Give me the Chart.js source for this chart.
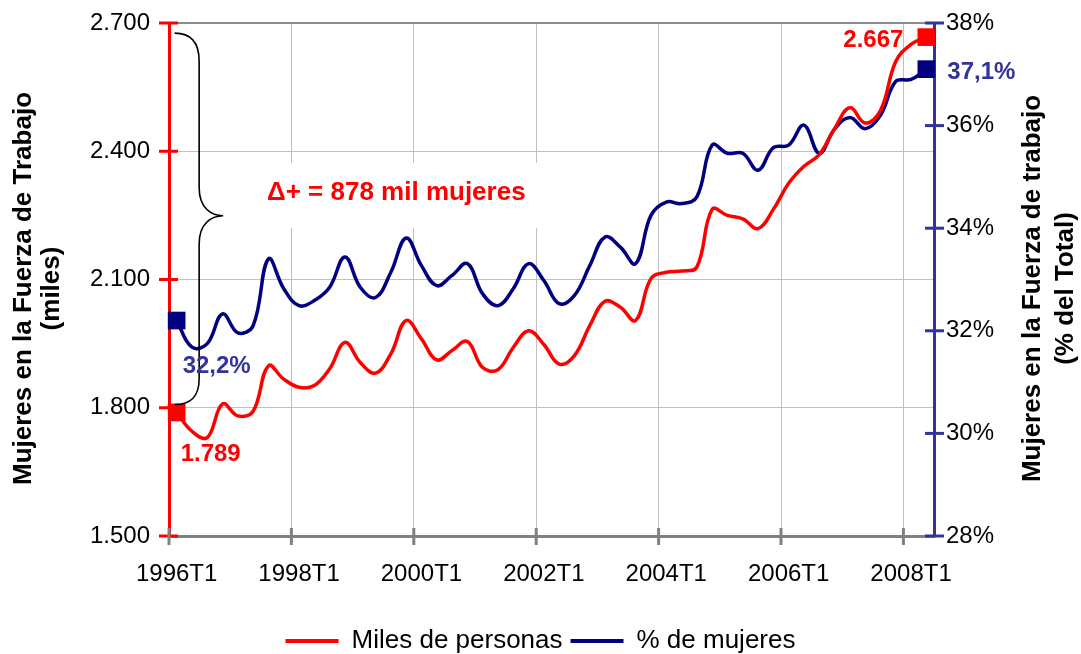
<!DOCTYPE html>
<html><head><meta charset="utf-8">
<script src="https://cdn.jsdelivr.net/npm/chart.js@4.4.1/dist/chart.umd.min.js"></script>
<style>html,body{margin:0;padding:0;background:#fff}</style>
</head><body>
<canvas id="c" width="1081" height="654"></canvas>
<script>
const quarters = [
 '1996T1','1996T2','1996T3','1996T4','1997T1','1997T2','1997T3','1997T4',
 '1998T1','1998T2','1998T3','1998T4','1999T1','1999T2','1999T3','1999T4',
 '2000T1','2000T2','2000T3','2000T4','2001T1','2001T2','2001T3','2001T4',
 '2002T1','2002T2','2002T3','2002T4','2003T1','2003T2','2003T3','2003T4',
 '2004T1','2004T2','2004T3','2004T4','2005T1','2005T2','2005T3','2005T4',
 '2006T1','2006T2','2006T3','2006T4','2007T1','2007T2','2007T3','2007T4',
 '2008T1','2008T2'];
const milesPersonas = [
 1789,1745,1730,1809,1781,1792,1898,1867,
 1848,1852,1891,1953,1906,1881,1926,2004,
 1961,1912,1934,1955,1894,1889,1941,1980,
 1948,1902,1922,1992,2049,2035,2004,2102,
 2117,2120,2129,2264,2250,2242,2219,2264,
 2325,2365,2392,2453,2502,2466,2495,2610,
 2650,2667];
const pctMujeres = [
 32.2,31.68,31.75,32.33,31.96,32.1,33.4,32.82,
 32.49,32.59,32.85,33.44,32.85,32.65,33.14,33.81,
 33.27,32.88,33.08,33.31,32.72,32.49,32.82,33.31,
 32.98,32.53,32.69,33.27,33.83,33.63,33.31,34.25,
 34.51,34.48,34.61,35.62,35.46,35.46,35.13,35.57,
 35.62,36.01,35.46,35.93,36.16,35.94,36.2,36.86,
 36.9,37.1];
const milesTicks = [1500,1800,2100,2400,2700];
const pctTicks = [28,30,32,34,36,38];
const seriesNames = ['Miles de personas','% de mujeres'];
const axisTitleLeft = ['Mujeres en la Fuerza de Trabajo','(miles)'];
const axisTitleRight = ['Mujeres en la Fuerza de trabajo','(% del Total)'];

const RED = '#ff0000', NAVY = '#000080', AXBLUE = '#333399', GRID = '#c0c0c0';
const FONT = '"Liberation Sans", Arial, Helvetica, sans-serif';
Chart.defaults.font.family = FONT;
Chart.defaults.color = '#000';

const fmtMiles = v => String(Math.round(v)).replace(/\B(?=(\d{3})+(?!\d))/g, '.');
const fmtPct = v => v.toFixed(1).replace('.', ',') + '%';
const lastIdx = milesPersonas.length - 1;
const endRadius = ctx => (ctx.dataIndex === 0 || ctx.dataIndex === lastIdx) ? 12.5 : 0;

const decor = {
  id: 'decor',
  beforeDatasetsDraw(chart) {
    const {ctx, chartArea: a, scales} = chart;
    ctx.save();
    // top frame line
    ctx.strokeStyle = '#8c8c8c'; ctx.lineWidth = 2;
    ctx.beginPath(); ctx.moveTo(a.left, a.top); ctx.lineTo(a.right, a.top); ctx.stroke();
    // white box behind annotation
    ctx.fillStyle = '#fff';
    ctx.fillRect(240, 163, 308, 65);
    // tick marks crossing axes
    ctx.lineWidth = 3;
    ctx.strokeStyle = RED;
    milesTicks.forEach(v => { const y = scales.y.getPixelForValue(v);
      ctx.beginPath(); ctx.moveTo(a.left - 10, y); ctx.lineTo(a.left + 9, y); ctx.stroke(); });
    ctx.strokeStyle = AXBLUE;
    pctTicks.forEach(v => { const y = scales.y1.getPixelForValue(v);
      ctx.beginPath(); ctx.moveTo(a.right - 9, y); ctx.lineTo(a.right + 10, y); ctx.stroke(); });
    ctx.strokeStyle = '#808080';
    const half = (scales.x.getPixelForValue(1) - scales.x.getPixelForValue(0)) / 2;
    for (let i = 0; i <= quarters.length; i += 8) {
      const x = i >= quarters.length ? a.right : scales.x.getPixelForValue(i) - half;
      ctx.beginPath(); ctx.moveTo(x, a.bottom - 8); ctx.lineTo(x, a.bottom + 9); ctx.stroke();
    }
    ctx.restore();
  },
  afterDatasetsDraw(chart) {
    const {ctx, scales} = chart;
    const r = chart.getDatasetMeta(0).data, b = chart.getDatasetMeta(1).data;
    ctx.save();
    // brace
    const bx = r[0].x + 22.5, top = scales.y.getPixelForValue(milesPersonas[lastIdx]) - 4;
    const bot = r[0].y - 8, mid = (top + bot) / 2 - 3;
    ctx.strokeStyle = '#000'; ctx.lineWidth = 1.6;
    ctx.beginPath();
    ctx.moveTo(r[0].x - 2, top);
    ctx.bezierCurveTo(bx - 8, top, bx, top + 10, bx, top + 28);
    ctx.lineTo(bx, mid - 28);
    ctx.bezierCurveTo(bx, mid - 8, bx + 12, mid, bx + 24, mid);
    ctx.bezierCurveTo(bx + 12, mid, bx, mid + 8, bx, mid + 28);
    ctx.lineTo(bx, bot - 26);
    ctx.bezierCurveTo(bx, bot - 8, bx - 8, bot, r[0].x - 2, bot);
    ctx.stroke();
    // annotation
    ctx.fillStyle = RED; ctx.textBaseline = 'middle'; ctx.textAlign = 'left';
    ctx.font = 'bold 26px ' + FONT;
    ctx.fillText('\u0394+ = ' + (milesPersonas[lastIdx] - milesPersonas[0]) + ' mil mujeres', 267, 193);
    // end labels
    ctx.font = 'bold 24px ' + FONT;
    ctx.fillText(fmtMiles(milesPersonas[0]), r[0].x + 4, r[0].y + 42);
    ctx.textAlign = 'right';
    ctx.fillText(fmtMiles(milesPersonas[lastIdx]), r[lastIdx].x - 23, r[lastIdx].y + 3);
    ctx.fillStyle = AXBLUE; ctx.textAlign = 'left';
    ctx.fillText(fmtPct(pctMujeres[0]), b[0].x + 6, b[0].y + 46);
    ctx.fillText(fmtPct(pctMujeres[lastIdx]), b[lastIdx].x + 21, b[lastIdx].y + 3);
    ctx.restore();
  },
  afterDraw(chart) {
    const {ctx, chartArea: a} = chart;
    const cy = (a.top + a.bottom) / 2 + 9;
    ctx.save();
    ctx.fillStyle = '#000'; ctx.font = 'bold 26px ' + FONT;
    ctx.textAlign = 'center'; ctx.textBaseline = 'middle';
    const put = (txt, x) => { ctx.save(); ctx.translate(x, cy); ctx.rotate(-Math.PI / 2); ctx.fillText(txt, 0, 0); ctx.restore(); };
    put(axisTitleLeft[0], 24); put(axisTitleLeft[1], 52);
    put(axisTitleRight[0], 1033); put(axisTitleRight[1], 1066);
    ctx.restore();
  }
};

new Chart(document.getElementById('c'), {
  type: 'line',
  data: {
    labels: quarters,
    datasets: [
      { label: seriesNames[0], data: milesPersonas, yAxisID: 'y', borderColor: RED, backgroundColor: RED,
        borderWidth: 3.5, tension: 0.4, pointStyle: 'rect', pointRadius: endRadius, pointHoverRadius: endRadius,
        pointBackgroundColor: RED, pointBorderWidth: 0, clip: false },
      { label: seriesNames[1], data: pctMujeres, yAxisID: 'y1', borderColor: NAVY, backgroundColor: NAVY,
        borderWidth: 3.5, tension: 0.4, pointStyle: 'rect', pointRadius: endRadius, pointHoverRadius: endRadius,
        pointBackgroundColor: NAVY, pointBorderWidth: 0, clip: false }
    ]
  },
  options: {
    responsive: false, animation: false, devicePixelRatio: 1,
    layout: { padding: { top: 23, left: 0, right: 0, bottom: -10 } },
    plugins: {
      tooltip: { enabled: false },
      legend: {
        position: 'bottom',
        labels: {
          boxWidth: 53, boxHeight: 4, padding: 8, font: { size: 26 }, color: '#000',
          generateLabels: chart => chart.data.datasets.map((d, i) => ({
            text: d.label, fillStyle: d.borderColor, strokeStyle: d.borderColor, lineWidth: 0,
            hidden: false, datasetIndex: i }))
        }
      }
    },
    scales: {
      x: {
        type: 'category', offset: true,
        grid: { offset: true, drawTicks: false, lineWidth: 1,
          color: c => (c.index % 8 === 0 && c.index > 0 && c.index < quarters.length) ? GRID : 'rgba(0,0,0,0)' },
        border: { color: '#808080', width: 3 },
        ticks: { autoSkip: false, maxRotation: 0, minRotation: 0, padding: 24, font: { size: 24 }, color: '#000',
          callback: (v, i) => i % 8 === 0 ? quarters[i] : '' },
        afterFit: s => { s.height = 84; s.paddingLeft = 0; s.paddingRight = 0; }
      },
      y: {
        position: 'left', min: milesTicks[0], max: milesTicks[milesTicks.length - 1],
        afterBuildTicks: s => { s.ticks = milesTicks.map(v => ({ value: v })); },
        grid: { drawTicks: false, lineWidth: 1,
          color: c => (c.index === 0 || c.index === milesTicks.length - 1) ? 'rgba(0,0,0,0)' : GRID },
        border: { color: RED, width: 3 },
        ticks: { padding: 19, font: { size: 24 }, color: '#000', callback: v => fmtMiles(v) },
        afterFit: s => { s.width = 169; s.paddingTop = 0; s.paddingBottom = 0; }
      },
      y1: {
        position: 'right', min: pctTicks[0], max: pctTicks[pctTicks.length - 1],
        afterBuildTicks: s => { s.ticks = pctTicks.map(v => ({ value: v })); },
        grid: { drawOnChartArea: false, drawTicks: false },
        border: { color: AXBLUE, width: 3 },
        ticks: { padding: 12, font: { size: 24 }, color: '#000', callback: v => v + '%' },
        afterFit: s => { s.width = 147; s.paddingTop = 0; s.paddingBottom = 0; }
      }
    }
  },
  plugins: [decor]
});
</script>
</body></html>
